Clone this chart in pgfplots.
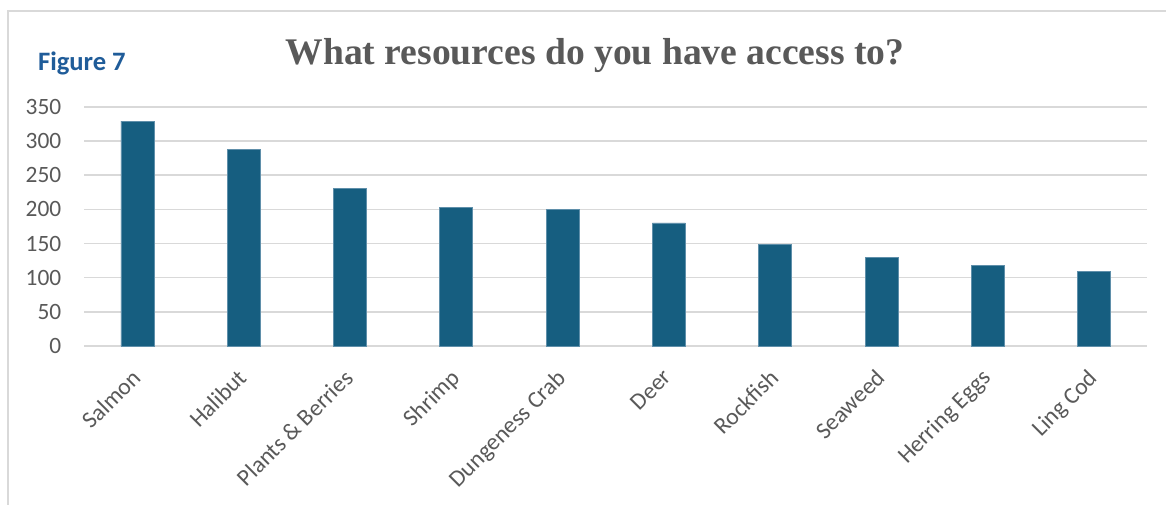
\documentclass[border=0pt]{standalone}
\usepackage{pgfplots}
\pgfplotsset{compat=1.18}
\usepackage{fontspec}
\setmainfont{Carlito}
\newfontfamily\titlefont{Liberation Serif}

\definecolor{barblue}{HTML}{165E80}
\definecolor{baredge}{HTML}{5F8FAA}
\definecolor{txtgray}{HTML}{595959}
\definecolor{gridgray}{HTML}{D9D9D9}
\definecolor{figblue}{HTML}{1F5C99}

\begin{document}
\begin{tikzpicture}
\useasboundingbox (0,0) rectangle (583pt,252pt);
\clip (0,0) rectangle (583pt,252pt);
% chart frame
\draw[gridgray, line width=1pt] (4pt,-20pt) -- (4pt,246.5pt) -- (600pt,246.5pt);

\node[anchor=base west, text=figblue, font=\fontsize{13.3}{15}\selectfont\bfseries] at (15.5pt,216.5pt) {Figure 7};
\node[anchor=base, text=txtgray, font=\fontsize{18.8}{22}\titlefont\bfseries] at (297.5pt,219.5pt) {What resources do you have access to?};

\begin{axis}[
  at={(42.15pt,79pt)}, anchor=south west,
  scale only axis, width=531.5pt, height=119.6pt,
  xmin=-0.5, xmax=9.5, ymin=0, ymax=350,
  axis line style={draw=none},
  major tick length=0pt,
  ytick={0,50,...,350},
  ymajorgrids, grid style={gridgray, line width=0.75pt},
  xtick={0,...,9},
  xticklabels={Salmon,Halibut,Plants \& Berries,Shrimp,Dungeness Crab,Deer,Rockfish,Seaweed,Herring Eggs,Ling Cod},
  tick label style={text=txtgray},
  yticklabel style={font=\fontsize{11.7}{14}\selectfont, xshift=-8pt},
  xticklabel style={font=\fontsize{11.8}{14}\selectfont, xshift=-3.5pt, yshift=-6pt, rotate=45, anchor=north east},
  /pgf/number format/assume math mode=true,
  ybar, bar width=16.5pt,
]
\addplot[fill=barblue, draw=baredge, line width=0.4pt] coordinates {
  (0,329) (1,288) (2,230) (3,203) (4,200) (5,180) (6,149) (7,130) (8,118) (9,109)
};
\end{axis}
\end{tikzpicture}
\end{document}
